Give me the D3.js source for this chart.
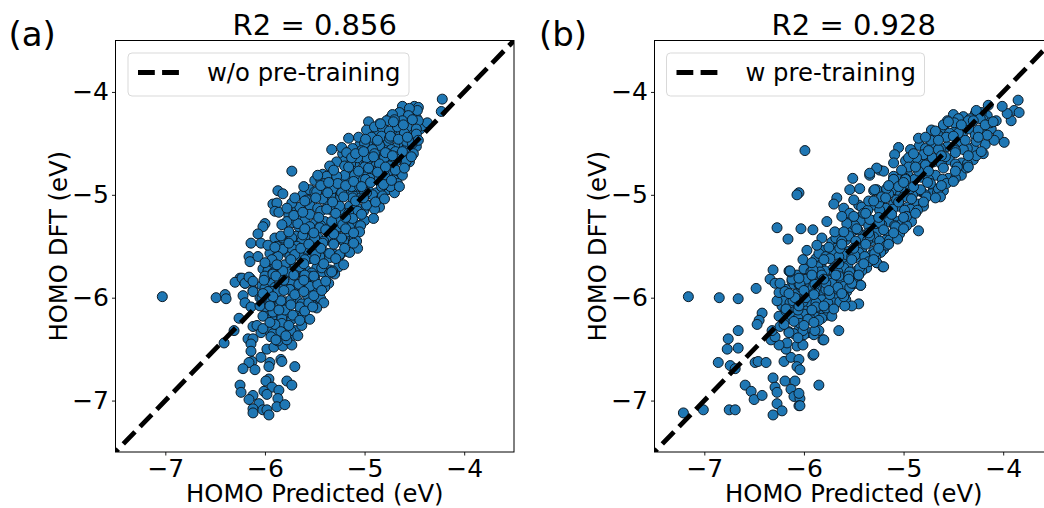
<!DOCTYPE html>
<html>
<head>
<meta charset="utf-8">
<script src="https://cdn.jsdelivr.net/npm/d3@7/dist/d3.min.js"></script>
<style>
  html, body { margin: 0; padding: 0; background: #fff; overflow: hidden; }
  text { font-family: "DejaVu Sans", sans-serif; fill: #000; }
</style>
</head>
<body>
<script>
// [HOMO predicted, HOMO DFT]
const pointsNoPretrain = [
[-5.68,-5.15],[-5.62,-5],[-5.55,-4.95],[-5.5,-4.86],[-5.42,-4.8],[-5.76,-5.2],[-5.82,-5.47],[-5.92,-5.57],[-6,-5.7],[-5.55,-5.05],
[-5.65,-5.25],[-5.75,-5.38],[-5.9,-5.42],[-5.22,-4.6],[-5.33,-4.75],[-5.44,-4.85],
[-4.62,-4.24],[-4.54,-4.22],[-4.48,-4.25],[-4.66,-4.26],[-4.92,-4.38],[-4.8,-4.36],[-4.7,-4.39],[-4.62,-4.37],[-4.53,-4.39],[-4.44,-4.36],
[-5.05,-4.52],[-4.95,-4.5],[-4.88,-4.53],[-4.79,-4.51],[-4.68,-4.54],[-4.6,-4.52],[-4.55,-4.5],[-4.48,-4.53],[-5.2,-4.67],[-5.1,-4.69],
[-5.02,-4.66],[-4.94,-4.68],[-4.84,-4.66],[-4.76,-4.69],[-4.68,-4.67],[-4.62,-4.65],[-4.55,-4.68],[-5.38,-4.82],[-5.28,-4.84],[-5.17,-4.81],
[-5.08,-4.83],[-5,-4.81],[-4.9,-4.84],[-4.84,-4.82],[-4.76,-4.8],[-4.68,-4.83],[-4.62,-4.81],[-5.5,-4.97],[-5.4,-4.95],[-5.3,-4.98],
[-5.17,-4.96],[-5.06,-4.99],[-4.96,-4.96],[-4.88,-4.98],[-4.77,-4.95],[-4.7,-4.98],[-5.65,-5.12],[-5.55,-5.1],[-5.47,-5.13],[-5.37,-5.11],
[-5.28,-5.14],[-5.15,-5.11],[-5.07,-5.13],[-4.96,-5.1],[-4.85,-5.12],[-5.72,-5.27],[-5.6,-5.25],[-5.5,-5.28],[-5.4,-5.26],[-5.3,-5.29],
[-5.2,-5.26],[-5.1,-5.28],[-5,-5.25],[-5.82,-5.42],[-5.68,-5.4],[-5.58,-5.43],[-5.47,-5.41],[-5.35,-5.44],[-5.26,-5.41],[-5.15,-5.43],
[-5.95,-5.57],[-5.8,-5.55],[-5.7,-5.58],[-5.6,-5.56],[-5.5,-5.59],[-5.4,-5.56],[-5.3,-5.58],[-5.18,-5.55],[-6.02,-5.72],[-5.9,-5.7],
[-5.82,-5.73],[-5.7,-5.71],[-5.58,-5.74],[-5.48,-5.71],[-5.35,-5.73],[-5.26,-5.7],[-6.03,-5.88],[-5.95,-5.86],[-5.85,-5.89],[-5.76,-5.87],
[-5.66,-5.9],[-5.55,-5.87],[-5.45,-5.89],[-5.36,-5.86],[-6,-6.03],[-5.9,-6.01],[-5.8,-6.04],[-5.68,-6.02],[-5.58,-6.05],[-5.5,-6.02],
[-5.98,-6.18],[-5.88,-6.16],[-5.78,-6.19],[-5.68,-6.17],[-5.58,-6.2],[-5.95,-6.33],[-5.87,-6.31],[-5.78,-6.34],[-5.7,-6.32],
[-4.75,-4.26],[-4.58,-4.3],[-4.42,-4.33],[-4.86,-4.41],[-4.76,-4.48],[-4.64,-4.42],[-4.5,-4.43],[-5,-4.55],[-4.84,-4.56],[-4.73,-4.56],
[-4.58,-4.55],[-5.14,-4.7],[-4.98,-4.7],[-4.89,-4.72],[-4.72,-4.7],[-4.59,-4.69],[-5.24,-4.86],[-5.14,-4.86],[-5.04,-4.86],[-4.87,-4.85],
[-4.71,-4.85],[-5.34,-5],[-5.24,-5.02],[-5.12,-5],[-5.04,-5.03],[-4.92,-5],[-4.83,-5.03],[-5.44,-5.16],[-5.33,-5.15],[-5.24,-5.16],
[-5.11,-5.15],[-5.01,-5.16],[-4.9,-5.14],[-5.66,-5.31],[-5.55,-5.33],[-5.44,-5.3],[-5.35,-5.32],[-5.25,-5.31],[-5.15,-5.32],[-5.04,-5.3],
[-5.75,-5.45],[-5.63,-5.45],[-5.52,-5.46],[-5.41,-5.45],[-5.3,-5.46],[-5.21,-5.45],[-5.1,-5.42],[-5.88,-5.6],[-5.75,-5.6],[-5.65,-5.6],
[-5.55,-5.62],[-5.45,-5.6],[-5.35,-5.61],[-5.25,-5.59],[-5.96,-5.76],[-5.86,-5.75],[-5.76,-5.76],[-5.64,-5.74],[-5.53,-5.76],[-5.42,-5.75],
[-5.3,-5.77],[-6,-5.91],[-5.9,-5.9],[-5.8,-5.91],[-5.71,-5.9],[-5.6,-5.92],[-5.5,-5.9],[-5.4,-5.9],[-5.95,-6.05],[-5.85,-6.06],
[-5.74,-6.02],[-5.63,-6.06],[-5.54,-6.02],[-5.93,-6.2],[-5.83,-6.2],[-5.73,-6.21],[-5.62,-6.18],[-5.92,-6.35],[-5.82,-6.36],[-5.74,-6.38],
[-4.22,-4.07],[-4.23,-4.19],[-4.62,-4.14],[-4.5,-4.14],[-4.46,-4.15],[-4.47,-4.18],[-4.55,-4.16],[-4.65,-4.2],[-4.72,-4.22],[-4.56,-4.23],
[-4.37,-4.3],[-4.46,-4.28],[-4.62,-4.28],[-4.7,-4.27],[-4.78,-4.28],[-4.85,-4.31],[-4.96,-4.29],[-4.98,-4.37],[-4.9,-4.34],[-4.82,-4.35],
[-4.75,-4.38],[-4.67,-4.34],[-4.57,-4.34],[-4.48,-4.36],[-4.48,-4.41],[-4.6,-4.4],[-5.06,-4.44],[-5.16,-4.45],[-4.93,-4.44],[-4.83,-4.43],
[-4.75,-4.45],[-4.58,-4.48],[-4.52,-4.5],[-5,-4.5],[-5.23,-4.54],[-5.33,-4.56],[-4.85,-4.52],[-4.92,-4.56],[-5.03,-4.57],[-5.12,-4.55],
[-5.18,-4.59],[-4.69,-4.58],[-4.77,-4.6],[-4.51,-4.6],[-4.58,-4.67],[-4.67,-4.63],[-4.8,-4.64],[-4.9,-4.6],[-4.98,-4.64],[-5.07,-4.64],
[-5.13,-4.64],[-5.28,-4.68],[-5.35,-4.72],[-5.2,-4.72],[-5.12,-4.77],[-5,-4.73],[-4.85,-4.7],[-4.75,-4.72],[-4.92,-4.77],[-4.8,-4.81],
[-4.67,-4.89],[-4.74,-4.92],[-4.83,-4.92],[-4.95,-4.84],[-5.02,-4.85],[-5.1,-4.92],[-5.2,-4.81],[-5.28,-4.82],[-5.32,-4.94],[-5.23,-4.98],
[-4.98,-4.98],[-4.82,-5.01],
[-5.73,-4.77],[-5.87,-4.96],[-5.82,-4.99],[-5.92,-5.09],[-5.88,-5.08],[-5.9,-5.16],[-5.86,-5.17],[-5.73,-5.08],[-5.78,-5.13],[-6,-5.28],
[-6.02,-5.31],[-6.07,-5.38],[-6.14,-5.47],[-6.04,-5.47],[-6.16,-5.6],[-6.15,-5.65],[-6.07,-5.6],[-5.97,-5.49],[-5.88,-5.5],[-5.84,-5.4],
[-5.78,-5.26],[-5.83,-5.29],[-5.73,-5.42],[-5.67,-5.28],[-5.55,-5.19],[-5.58,-5.05],[-5.61,-4.92],[-5.7,-5.03],[-5.48,-4.97],[-5.47,-4.81],
[-5.4,-4.89],[-5.42,-5.04],[-5.37,-4.98],[-5.23,-4.98],[-5.27,-4.89],[-5.13,-4.92],[-5.05,-4.92],[-5.1,-4.81],[-4.99,-4.85],[-5.38,-5.14],
[-5.25,-5.11],[-5.12,-5.03],[-5,-4.97],[-4.98,-5.1],[-5.07,-5.16],[-5.16,-5.18],[-5.28,-5.24],[-5.45,-5.32],[-5.55,-5.31],[-5.62,-5.39],
[-5.68,-5.5],[-5.73,-5.52],[-5.57,-5.53],[-5.5,-5.42],[-5.33,-5.26],[-5.22,-5.29],[-5.12,-5.23],[-5.05,-5.36],[-5.17,-5.36],[-5.23,-5.42],
[-5.08,-5.45],[-5.07,-5.52],[-5.15,-5.56],[-5.25,-5.58],[-5.35,-5.57],[-5.42,-5.47],[-5.49,-5.58],[-5.6,-5.63],[-5.7,-5.58],[-5.82,-5.53],
[-5.87,-5.6],[-5.8,-5.68],[-5.93,-5.63],[-5.97,-5.74],[-5.92,-5.76],[-6,-5.81],[-5.75,-5.75],[-5.65,-5.7],[-5.55,-5.79],[-5.43,-5.71],
[-5.32,-5.74],[-5.35,-5.76],[-5.73,-5.86],[-5.85,-5.86],[-5.65,-5.87],[-5.47,-5.87],[-5.45,-6],[-5.75,-5.92],[-5.93,-5.94],[-5.98,-6],
[-6.05,-6],[-6.2,-5.86],[-6.15,-5.81],[-6.12,-5.93],[-6.25,-5.81],[-5.58,-5.97],
[-7.03,-5.99],[-6.49,-6],[-6.4,-5.97],[-6.39,-6.01],[-6.3,-5.85],[-6.23,-5.81],[-6.2,-5.86],[-6.16,-5.8],[-6.12,-5.84],[-6.12,-5.94],
[-6.22,-5.98],[-6.2,-6.05],[-6.14,-6.09],[-6.26,-6.2],[-6.31,-6.32],[-6.41,-6.44],[-6.12,-6.28],[-6.08,-6.27],[-6.04,-6.34],[-6.02,-6.3],
[-6.17,-6.4],[-6.12,-6.4],[-6.14,-6.45],[-6.14,-6.52],[-5.98,-6.5],[-5.91,-6.48],[-6.04,-6.58],[-6.13,-6.62],[-6.16,-6.63],[-6.22,-6.69],
[-6.1,-6.7],[-5.95,-6.63],[-5.96,-6.67],[-5.84,-6.6],[-5.83,-6.62],[-5.7,-6.67],[-5.96,-6.79],[-5.99,-6.81],[-5.93,-6.87],[-5.78,-6.81],
[-5.73,-6.85],[-6.25,-6.85],[-6.24,-6.92],[-6.12,-6.95],[-6.01,-6.91],[-5.98,-6.94],[-5.86,-6.9],[-5.87,-6.98],[-6.16,-6.99],[-6.06,-7.03],
[-5.88,-7.06],[-5.8,-7.04],[-6.12,-7.08],[-6.12,-7.12],[-6.02,-7.09],[-5.98,-7.09],[-5.96,-7.14],
[-6,-5.79],[-5.92,-5.77],[-5.82,-5.74],[-5.7,-5.78],[-5.6,-5.78],[-5.5,-5.81],[-5.33,-5.75],[-5.87,-5.94],[-5.75,-5.92],[-5.66,-5.87],
[-5.55,-5.89],[-5.47,-5.87],[-6.03,-6],[-5.97,-5.94],[-5.84,-6.03],[-5.99,-6.09],[-5.92,-6.14],[-6.02,-6.18],[-5.8,-6.12],[-5.72,-6.17],
[-5.65,-6.09],[-5.56,-6.05],[-5.44,-6.01],[-5.41,-6.05],[-5.48,-6.1],[-5.55,-6.21],[-5.63,-6.27],[-5.74,-6.32],[-5.83,-6.25],[-5.9,-6.26],
[-5.84,-6.33],[-5.94,-6.38],[-5.67,-6.37],[-5.82,-6.47],[-5.87,-6.42],[-5.73,-6.46],[-5.78,-6.41],[-6.05,-6.08],
[-4.84,-4.31],[-4.71,-4.29],[-4.61,-4.32],[-4.52,-4.27],[-4.99,-4.46],[-4.87,-4.47],[-4.74,-4.43],[-4.66,-4.46],[-4.57,-4.44],[-4.46,-4.47],
[-5.09,-4.6],[-5.01,-4.58],[-4.91,-4.63],[-4.79,-4.59],[-4.72,-4.62],[-4.62,-4.58],[-4.53,-4.63],[-5.31,-4.76],[-5.16,-4.73],[-5.06,-4.77],
[-4.96,-4.74],[-4.87,-4.78],[-4.79,-4.73],[-4.69,-4.76],[-4.6,-4.74],[-5.44,-4.91],[-5.36,-4.88],[-5.19,-4.91],[-5.11,-4.87],[-5.03,-4.92],
[-4.94,-4.88],[-4.81,-4.9],[-4.73,-4.86],[-4.65,-4.92],[-5.6,-5.06],[-5.49,-5.03],[-5.32,-5.07],[-5.21,-5.02],[-5.09,-5.06],[-5.01,-5.03],
[-4.89,-5.07],[-4.8,-5.04],[-5.71,-5.2],[-5.62,-5.17],[-5.46,-5.22],[-5.29,-5.18],[-5.19,-5.22],[-5.03,-5.19],[-4.91,-5.23],[-5.76,-5.36],
[-5.6,-5.33],[-5.51,-5.37],[-5.39,-5.34],[-5.31,-5.38],[-5.19,-5.33],[-5.11,-5.37],[-5.9,-5.51],[-5.76,-5.47],[-5.64,-5.52],[-5.56,-5.48],
[-5.44,-5.52],[-5.31,-5.48],[-5.2,-5.52],[-5.11,-5.47],[-6,-5.66],[-5.88,-5.68],[-5.74,-5.63],[-5.61,-5.67],[-5.5,-5.63],[-5.41,-5.67],
[-5.29,-5.62],[-5.21,-5.68],[-6.01,-5.83],[-5.89,-5.79],[-5.81,-5.83],[-5.71,-5.78],[-5.61,-5.83],[-5.51,-5.79],[-5.39,-5.84],[-6.02,-5.96],
[-5.92,-5.99],[-5.81,-5.93],[-5.7,-5.97],[-5.61,-5.94],[-5.51,-5.98],[-5.43,-5.93],[-5.95,-6.08],[-5.86,-6.12],[-5.74,-6.07],[-5.6,-6.13],
[-5.52,-6.09],[-5.95,-6.24],[-5.76,-6.27],[-5.65,-6.22],[-5.89,-6.41],[-5.79,-6.37]
];

// [HOMO predicted, HOMO DFT]
const pointsPretrain = [
[-5.45,-5.1],[-5.33,-5.08],[-5.2,-5.12],[-5.1,-5.09],[-4.96,-5.12],[-4.86,-5.09],[-5.52,-5.24],[-5.44,-5.22],[-5.3,-5.25],[-5.18,-5.23],
[-5.06,-5.26],[-4.95,-5.24],[-5.64,-5.38],[-5.52,-5.36],[-5.39,-5.39],[-5.27,-5.37],[-5.15,-5.4],[-5.04,-5.38],[-5.72,-5.46],[-5.58,-5.44],
[-5.45,-5.47],[-5.33,-5.45],[-5.2,-5.46],[-5.8,-5.54],[-5.68,-5.52],[-5.55,-5.55],[-5.42,-5.53],[-5.3,-5.55],[-5.2,-5.53],[-5.88,-5.62],
[-5.75,-5.6],[-5.62,-5.63],[-5.48,-5.61],[-5.36,-5.64],[-5.96,-5.7],[-5.83,-5.68],[-5.7,-5.71],[-5.56,-5.69],[-5.44,-5.72],[-6.07,-5.78],
[-5.94,-5.76],[-5.82,-5.79],[-5.7,-5.77],[-5.58,-5.8],[-5.47,-5.83],[-6.12,-5.84],[-6,-5.82],[-5.88,-5.85],[-5.76,-5.83],[-5.63,-5.86],
[-6.18,-5.92],[-6.06,-5.95],[-5.94,-5.92],[-5.82,-5.95],[-5.7,-5.93],[-5.57,-5.94],[-6.16,-6],[-6.04,-6.02],[-5.92,-6.01],[-5.8,-6.03],
[-5.68,-6.01],[-6.22,-6.08],[-6.1,-6.1],[-5.98,-6.08],[-5.86,-6.1],[-5.74,-6.08],[-6.14,-6.2],[-6.02,-6.18],[-5.92,-6.17],[-5.8,-6.16],
[-5.3,-4.96],[-5.18,-4.98],[-5.06,-4.97],[-4.94,-4.99],[-4.82,-4.97],[-4.7,-4.94],
[-4.5,-4.22],[-4.4,-4.24],[-4.28,-4.21],[-4.16,-4.23],[-4.22,-4.2],[-4.72,-4.37],[-4.6,-4.35],[-4.48,-4.38],[-4.34,-4.36],[-4.22,-4.39],
[-4.12,-4.36],[-4.84,-4.52],[-4.7,-4.5],[-4.56,-4.53],[-4.42,-4.51],[-4.3,-4.54],[-4.18,-4.51],[-4.98,-4.67],[-4.84,-4.65],[-4.7,-4.68],
[-4.54,-4.66],[-4.42,-4.69],[-4.3,-4.66],[-5.1,-4.82],[-4.96,-4.8],[-4.82,-4.83],[-4.68,-4.81],[-4.55,-4.84],[-4.42,-4.81],[-5.24,-4.97],
[-5.1,-4.95],[-4.97,-4.98],[-4.85,-4.96],[-4.72,-4.99],[-4.6,-4.96],[-5.42,-5.12],[-5.3,-5.1],[-5.18,-5.13],[-5.05,-5.11],[-4.93,-5.14],
[-4.8,-5.11],[-5.55,-5.27],[-5.42,-5.25],[-5.28,-5.28],[-5.15,-5.26],[-5.03,-5.29],[-4.92,-5.26],[-5.68,-5.42],[-5.55,-5.4],[-5.42,-5.43],
[-5.3,-5.41],[-5.18,-5.44],[-5.1,-5.41],[-5.85,-5.57],[-5.72,-5.55],[-5.58,-5.58],[-5.45,-5.56],[-5.33,-5.59],[-5.23,-5.56],[-6,-5.72],
[-5.86,-5.7],[-5.72,-5.73],[-5.6,-5.71],[-5.47,-5.74],[-5.37,-5.71],[-6.1,-5.87],[-5.97,-5.85],[-5.85,-5.88],[-5.72,-5.86],[-5.6,-5.89],
[-5.48,-5.86],[-6.2,-6.03],[-6.08,-6.01],[-5.95,-6.04],[-5.82,-6.02],[-5.7,-6.05],[-5.58,-6.02],[-6.12,-6.18],[-6,-6.16],[-5.88,-6.19],
[-5.76,-6.17],[-6.15,-6.33],[-6.05,-6.31],[-5.95,-6.34],[-5.85,-6.32],
[-4.45,-4.26],[-4.33,-4.26],[-4.2,-4.27],[-4.66,-4.41],[-4.54,-4.4],[-4.41,-4.42],[-4.28,-4.42],[-4.78,-4.55],[-4.63,-4.55],[-4.49,-4.55],
[-4.36,-4.55],[-4.91,-4.69],[-4.77,-4.7],[-4.62,-4.7],[-4.48,-4.7],[-4.36,-4.7],[-5.04,-4.85],[-4.89,-4.85],[-4.75,-4.85],[-4.61,-4.85],
[-4.48,-4.84],[-5.17,-5],[-5.03,-4.99],[-4.91,-5],[-4.78,-5],[-4.66,-4.98],[-5.36,-5.15],[-5.24,-5.15],[-5.11,-5.14],[-4.99,-5.15],
[-4.86,-5.15],[-5.49,-5.3],[-5.35,-5.3],[-5.22,-5.29],[-5.09,-5.3],[-4.97,-5.3],[-5.62,-5.45],[-5.48,-5.45],[-5.36,-5.44],[-5.24,-5.45],
[-5.14,-5.44],[-5.78,-5.6],[-5.65,-5.6],[-5.52,-5.6],[-5.39,-5.6],[-5.28,-5.6],[-5.93,-5.75],[-5.79,-5.74],[-5.66,-5.75],[-5.54,-5.75],
[-5.42,-5.74],[-6.03,-5.9],[-5.91,-5.9],[-5.78,-5.9],[-5.66,-5.9],[-5.54,-5.9],[-6.14,-6.05],[-6.01,-6.04],[-5.88,-6.05],[-5.76,-6.05],
[-5.64,-6.04],[-6.06,-6.2],[-5.94,-6.2],[-5.82,-6.2],[-6.1,-6.35],[-6,-6.36],[-5.9,-6.36],
[-7.16,-5.99],[-6.85,-6],[-6.66,-6.01],[-6.48,-5.91],[-6.34,-5.82],[-6.29,-5.86],[-6.31,-5.73],[-6.42,-6.15],[-6.45,-6.22],[-6.47,-6.26],
[-6.66,-6.32],[-6.76,-6.4],[-6.77,-6.5],[-6.66,-6.49],[-6.86,-6.63],[-6.74,-6.66],[-6.69,-6.69],[-6.49,-6.63],[-6.46,-6.62],[-6.38,-6.63],
[-6.59,-6.85],[-6.53,-6.91],[-6.5,-6.99],[-6.42,-6.95],[-6.31,-6.78],[-6.29,-6.87],[-6.27,-6.92],[-6.27,-7.03],[-6.19,-6.81],[-6.09,-6.81],
[-6.13,-6.89],[-6.1,-6.96],[-6.04,-6.98],[-6.05,-6.93],[-6.05,-7.05],[-6.04,-7.05],[-5.85,-6.85],[-6.22,-7.1],[-6.31,-7.14],[-7.01,-7.09],
[-6.75,-7.09],[-6.69,-7.09],[-7.21,-7.12],[-6.2,-6.62],[-6.13,-6.58],[-6.05,-6.6],[-6.07,-6.67],[-6.04,-6.7],[-5.91,-6.56],[-5.81,-6.41],
[-6.07,-6.47],[-6.01,-6.46],[-6.18,-6.5],[-6.17,-6.44],[-6.25,-6.46],[-6.33,-6.41],[-6.29,-6.38],[-6.32,-6.32],[-6.24,-6.28],[-6.15,-6.34],
[-6.04,-6.25],[-5.96,-6.21],[-5.85,-6.22],[-5.89,-6.32],[-6.01,-6.32],[-6.06,-6.39],[-6.25,-6.18],[-6.18,-6.13],[-6.06,-6.12],[-5.88,-6.09],
[-5.78,-6.1],[-6.27,-6.03],[-6.25,-5.95],[-6.11,-6.03],[-5.89,-5.95],[-6.05,-5.87],[-6.12,-5.82],[-5.98,-6],[-5.98,-5.82],[-5.84,-5.75],
[-5.78,-5.92],[-6.15,-5.74],[-5.91,-5.79],
[-5.21,-5.7],[-5.27,-5.66],[-5.35,-5.65],[-5.43,-5.88],[-5.45,-6.06],[-5.52,-6.08],[-5.59,-6.08],[-5.6,-5.98],[-5.5,-5.86],[-5.65,-6.32],
[-5.72,-6.18],[-5.8,-6.41],[-5.9,-6.55],[-6.14,-5.75],
[-5.51,-4.84],[-5.99,-4.57],[-6.05,-4.98],[-6.07,-5],[-6.03,-5.33],[-6.16,-5.43],[-6.27,-5.32],[-4.85,-5.35],[-5.91,-5.34],[-5.77,-5.26],
[-5.67,-5.03],[-5.7,-5.09],[-5.54,-4.95],[-5.44,-4.94],[-5.34,-4.81],[-5.24,-4.76],[-5.1,-4.85],[-4.98,-4.84],[-5.27,-4.95],[-5.15,-4.99],
[-5,-4.94],[-5.35,-5.06],[-5.5,-5.05],[-5.6,-5.13],[-5.54,-5.18],[-5.4,-5.18],[-5.25,-5.08],[-5.07,-5.05],[-4.97,-5.21],[-5.08,-5.31],
[-5.06,-5.43],[-5.17,-5.49],[-5.24,-5.27],[-5.34,-5.24],[-5.46,-5.34],[-5.57,-5.28],[-5.62,-5.21],[-5.69,-5.36],[-5.82,-5.42],[-5.87,-5.49],
[-5.97,-5.54],[-6.01,-5.63],[-6.14,-5.74],[-6.04,-5.87],[-6.24,-5.86],[-5.74,-5.62],[-5.64,-5.52],[-5.49,-5.59],[-5.34,-5.4],[-5.29,-5.57],
[-5.27,-5.66],[-5.2,-5.7],[-5.44,-5.71],[-5.55,-5.79],[-5.43,-5.88],[-5.52,-5.86],[-5.65,-5.79],[-5.78,-5.86],[-5.91,-5.73],[-5.89,-5.87],
[-5.82,-5.78],[-5.6,-5.99],[-5.74,-5.97],[-6.09,-6],[-6.19,-5.94],
[-3.85,-4.08],[-3.89,-4.18],[-3.84,-4.2],[-3.92,-4.28],[-3.96,-4.21],[-4.01,-4.14],[-4.05,-4.42],[-3.99,-4.49],[-4.09,-4.47],[-4.15,-4.13],
[-4.27,-4.18],[-4.23,-4.26],[-4.13,-4.3],[-4.07,-4.28],[-4.25,-4.37],[-4.16,-4.42],[-4.27,-4.48],[-4.2,-4.6],[-4.27,-4.62],[-4.37,-4.74],
[-4.46,-4.73],[-4.56,-4.28],[-4.49,-4.3],[-4.35,-4.28],[-4.6,-4.32],[-4.68,-4.38],[-4.57,-4.44],[-4.45,-4.4],[-4.85,-4.45],[-5.05,-4.54],
[-4.65,-4.56],[-4.73,-4.47],[-4.8,-4.61],[-4.4,-4.56],[-4.48,-4.57],[-4.58,-4.63],[-4.71,-4.64],[-4.93,-4.56],[-4.87,-4.64],[-5.09,-4.61],
[-5.1,-4.69],[-4.95,-4.64],[-4.78,-4.71],[-4.85,-4.77],[-4.95,-4.73],[-5.2,-4.77],[-5.27,-4.74],[-5.34,-4.79],[-5.1,-4.85],[-4.98,-4.85],
[-4.57,-4.89],[-4.65,-4.94],[-4.63,-5.02],[-4.73,-4.89],[-4.83,-4.95],[-4.93,-4.94],[-5.05,-4.92],[-5.17,-4.94],[-5.29,-4.95],[-5.22,-5.02],
[-5,-5.02],[-4.77,-5.02],
[-4.55,-4.29],[-4.42,-4.32],[-4.3,-4.28],[-4.18,-4.32],[-4.1,-4.29],[-4.78,-4.44],[-4.65,-4.47],[-4.5,-4.43],[-4.38,-4.47],[-4.25,-4.44],
[-4.9,-4.6],[-4.75,-4.57],[-4.62,-4.62],[-4.48,-4.59],[-4.35,-4.62],[-4.22,-4.58],[-5.02,-4.76],[-4.88,-4.73],[-4.75,-4.77],[-4.6,-4.74],
[-4.48,-4.77],[-4.35,-4.73],[-5.15,-4.91],[-5,-4.88],[-4.9,-4.92],[-4.76,-4.88],[-4.62,-4.91],[-4.5,-4.87],[-5.3,-5.06],[-5.18,-5.03],
[-5.05,-5.07],[-4.92,-5.04],[-4.8,-5.07],[-4.68,-5.03],[-5.5,-5.21],[-5.38,-5.18],[-5.25,-5.22],[-5.12,-5.19],[-5,-5.22],[-4.88,-5.18],
[-5.6,-5.36],[-5.47,-5.33],[-5.35,-5.37],[-5.2,-5.34],[-5.1,-5.37],[-5,-5.33],[-5.75,-5.51],[-5.62,-5.48],[-5.5,-5.52],[-5.38,-5.48],
[-5.25,-5.52],[-5.15,-5.48],[-5.92,-5.66],[-5.8,-5.63],[-5.65,-5.67],[-5.52,-5.63],[-5.4,-5.67],[-5.3,-5.63],[-6.05,-5.81],[-5.92,-5.78],
[-5.8,-5.82],[-5.68,-5.78],[-5.55,-5.82],[-5.45,-5.78],[-6.15,-5.96],[-6,-5.93],[-5.9,-5.97],[-5.75,-5.93],[-5.62,-5.96],[-6.18,-6.11],
[-6.05,-6.08],[-5.92,-6.12],[-5.8,-6.08],[-5.7,-6.11],[-6.2,-6.26],[-6.1,-6.23],[-6,-6.27],[-5.9,-6.24]
];

const tickValues = [-7, -6, -5, -4];
const titles = ['R2 = 0.856', 'R2 = 0.928'];
const panelTags = ['(a)', '(b)'];
const legendLabels = ['w/o pre-training', 'w pre-training'];
const xLabel = 'HOMO Predicted (eV)';
const yLabel = 'HOMO DFT (eV)';
const domain = [-7.5, -3.5];

const svg = d3.select('body').append('svg')
  .attr('width', 1044)
  .attr('height', 508)
  .style('display', 'block');

// one panel, left/legend sizes differ between (a) and (b)
const drawPanel = (opt) => {
  const width = 398.5, height = 411.5, top = 40.5, left = opt.left;

  const x = d3.scaleLinear().domain(domain).range([0, width]);
  const y = d3.scaleLinear().domain(domain).range([height, 0]);

  const g = svg.append('g').attr('transform', `translate(${left},${top})`);

  g.append('clipPath').attr('id', `clip-${opt.id}`)
    .append('rect').attr('width', width).attr('height', height);

  const plot = g.append('g').attr('clip-path', `url(#clip-${opt.id})`);

  plot.selectAll('circle')
    .data(opt.points)
    .join('circle')
      .attr('cx', d => x(d[0]))
      .attr('cy', d => y(d[1]))
      .attr('r', 5)
      .attr('fill', '#1f77b4')
      .attr('stroke', '#0d1b26')
      .attr('stroke-width', 1);

  // y = x guide, sits on top of the points
  plot.append('path')
    .attr('d', d3.line().x(d => x(d)).y(d => y(d))(domain))
    .attr('fill', 'none')
    .attr('stroke', '#000')
    .attr('stroke-width', 4.8)
    .attr('stroke-dasharray', '16.8,7.3')
    .attr('stroke-dashoffset', 12.9);

  // frame
  g.append('rect')
    .attr('width', width)
    .attr('height', height)
    .attr('fill', 'none')
    .attr('stroke', '#000')
    .attr('stroke-width', 1);

  const xAxis = d3.axisBottom(x).tickValues(tickValues).tickSize(3.5).tickPadding(4).tickFormat(d3.format('d'));
  const yAxis = d3.axisLeft(y).tickValues(tickValues).tickSize(3.5).tickPadding(3).tickFormat(d3.format('d'));

  const gx = g.append('g').attr('transform', `translate(0,${height})`).call(xAxis);
  const gy = g.append('g').call(yAxis);
  [gx, gy].forEach(a => {
    a.select('.domain').remove();
    a.selectAll('.tick line').attr('stroke', '#000').attr('stroke-width', 0.9);
    a.selectAll('.tick text').attr('font-size', 25).attr('font-family', '"DejaVu Sans", sans-serif');
  });

  g.append('text')
    .attr('x', width / 2).attr('y', -6)
    .attr('text-anchor', 'middle')
    .attr('font-size', 29)
    .text(opt.title);

  g.append('text')
    .attr('x', width / 2).attr('y', 462 - top + 40)
    .attr('text-anchor', 'middle')
    .attr('font-size', 24.3)
    .text(xLabel);

  g.append('text')
    .attr('transform', `translate(${-49},${height / 2}) rotate(-90)`)
    .attr('text-anchor', 'middle')
    .attr('font-size', 24.3)
    .text(yLabel);

  // legend
  const legend = g.append('g').attr('transform', `translate(${opt.legendX},12.5)`);
  legend.append('rect')
    .attr('width', opt.legendW).attr('height', 43)
    .attr('rx', 4).attr('ry', 4)
    .attr('fill', '#fff').attr('fill-opacity', 0.8)
    .attr('stroke', '#d9d9d9').attr('stroke-width', 1);
  legend.append('line')
    .attr('x1', 10).attr('x2', 58)
    .attr('y1', 19.5).attr('y2', 19.5)
    .attr('stroke', '#000').attr('stroke-width', 4.8)
    .attr('stroke-dasharray', '16.8,7.3');
  legend.append('text')
    .attr('x', opt.legendTextX).attr('y', 28)
    .attr('font-size', 24.3)
    .text(opt.legend);

  svg.append('text')
    .attr('x', opt.tagX).attr('y', 46)
    .attr('font-size', 34)
    .text(opt.tag);
};

drawPanel({
  id: 'a', left: 115.5, points: pointsNoPretrain, title: titles[0], tag: panelTags[0], tagX: 8.5,
  legend: legendLabels[0], legendX: 12.5, legendW: 281, legendTextX: 79
});
drawPanel({
  id: 'b', left: 654.5, points: pointsPretrain, title: titles[1], tag: panelTags[1], tagX: 539,
  legend: legendLabels[1], legendX: 12, legendW: 258, legendTextX: 79
});
</script>
</body>
</html>
